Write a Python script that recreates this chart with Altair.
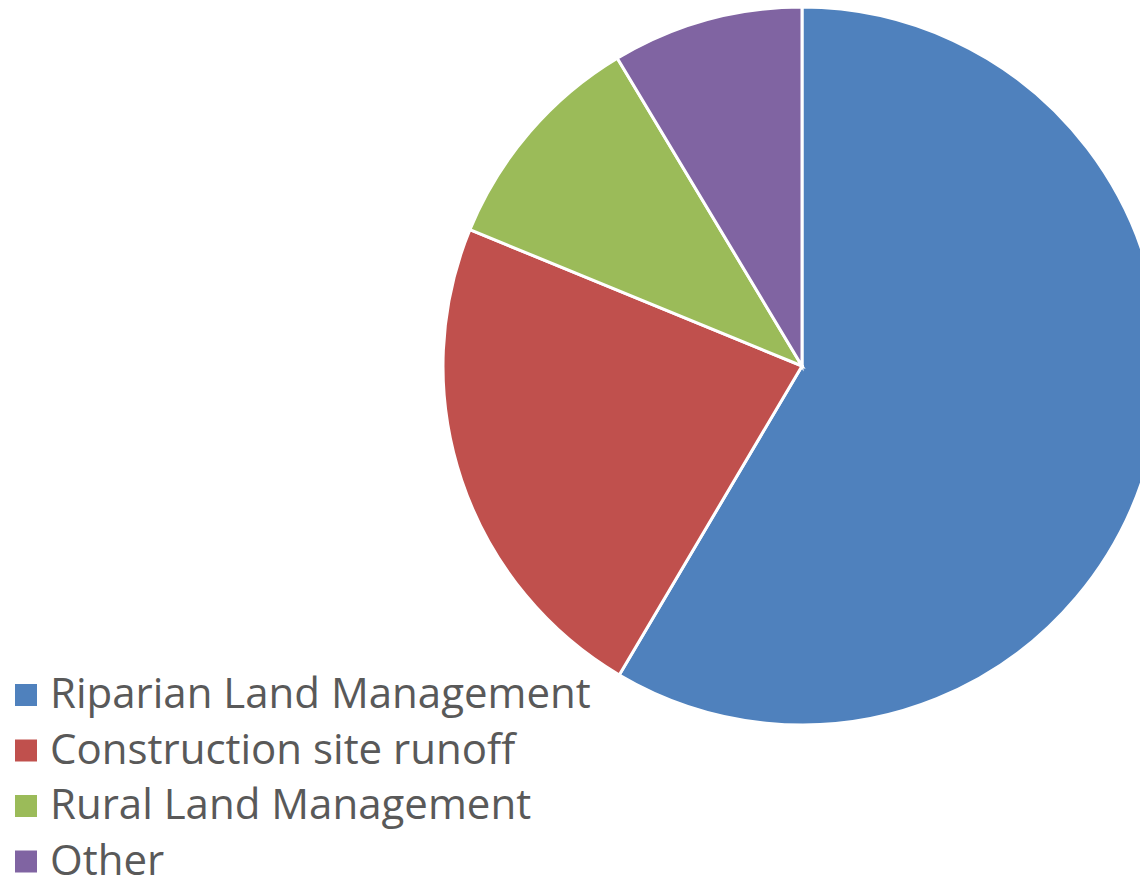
import altair as alt
import pandas as pd

categories = ["Riparian Land Management", "Construction site runoff", "Rural Land Management", "Other"]
values = [58.5, 22.7, 10.2, 8.6]
colors = ["#4F81BD", "#C0504D", "#9BBB59", "#8064A2"]

df = pd.DataFrame({"category": categories, "value": values, "order": list(range(len(categories)))})

cx, cy, r = 794, 358, 359

chart = alt.Chart(df).mark_arc(outerRadius=r, stroke="white", strokeWidth=3).encode(
    theta=alt.Theta("value:Q", stack=True),
    order=alt.Order("order:Q"),
    color=alt.Color(
        "category:N",
        sort=categories,
        scale=alt.Scale(domain=categories, range=colors),
        legend=alt.Legend(
            title=None,
            orient="none",
            legendX=-3,
            legendY=666,
            symbolType="square",
            symbolSize=484,
            symbolStrokeWidth=0,
            labelFont="Open Sans",
            labelFontSize=42,
            labelColor="#595959",
            labelLimit=800,
            rowPadding=13.5,
            symbolOffset=0,
            labelOffset=3,
        ),
    ),
    x=alt.value(cx),
    y=alt.value(cy),
).properties(
    width=1132, height=879, padding=0,
    autosize=alt.AutoSizeParams(type="none"),
).configure_view(stroke=None)

chart.save("out.html", embed_options={"renderer": "svg", "actions": False})
